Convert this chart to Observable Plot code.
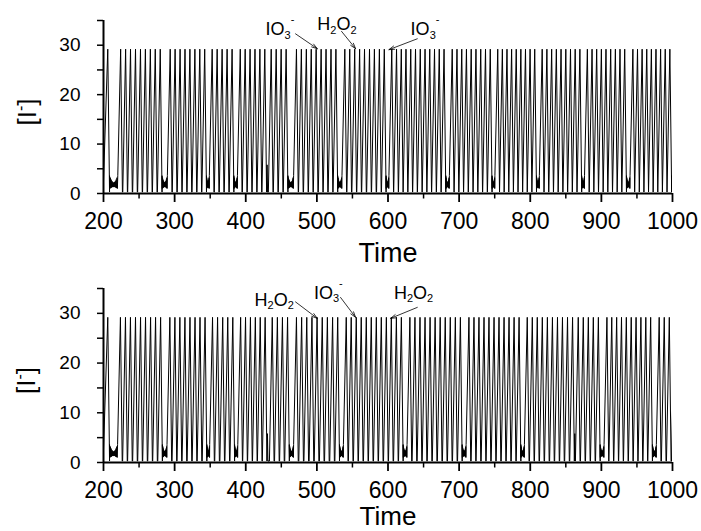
<!DOCTYPE html>
<html><head><meta charset="utf-8">
<script src="https://cdn.jsdelivr.net/npm/d3@7"></script>
<script src="https://cdn.jsdelivr.net/npm/@observablehq/plot@0.6"></script>
<style>
body{margin:0;background:#fff;}
#chart{width:701px;height:531px;overflow:hidden;background:#fff;}
#chart svg{display:block;}
</style></head><body><div id="chart"></div>
<script>
// ---- data ----
// peak times of the large [I-] spikes (upper panel)
const topPeaks = [206.0,
  224.1,231.1,238.0,245.0,252.0,258.9,265.9,272.8,279.8,
  293.8,300.7,307.7,314.6,321.5,328.5,335.4,342.3,
  352.8,359.8,366.8,373.8,380.8,
  392.3,399.2,406.1,413.0,419.9,426.8,435.8,442.8,449.8,456.8,
  471.3,478.2,485.2,492.1,499.0,506.0,512.9,519.9,526.8,
  539.3,546.2,553.2,560.1,567.0,574.0,580.9,587.9,594.8,
  605.3,612.0,618.7,625.3,632.0,638.7,645.4,652.1,658.7,665.4,672.1,678.8,
  690.3,697.0,703.7,710.3,717.0,723.7,730.4,737.1,743.8,
  754.3,760.8,767.3,773.8,780.3,786.8,793.3,799.8,806.3,
  816.8,823.4,830.1,836.7,843.3,850.0,856.6,863.2,869.8,
  880.3,886.9,893.4,900.0,906.5,913.1,919.7,926.2,932.8,
  944.3,950.8,957.3,963.8,970.3,976.8,983.3,989.8,996.3];
const topMinis = [430.0];          // small failed spikes
const topEndQuiet = 6;             // trace ends in a quiet phase

// lower panel
const bottomPeaks = [206.0,
  223.8,230.9,237.9,245.0,252.1,259.1,266.2,273.2,280.3,
  293.3,300.4,307.4,314.5,321.6,328.7,335.7,342.8,
  353.3,360.4,367.6,374.7,381.8,
  392.8,399.7,406.6,413.5,420.4,427.3,437.3,444.5,451.6,458.8,
  471.3,478.6,485.8,493.1,500.3,507.6,514.8,522.1,529.3,
  541.3,548.3,555.4,562.4,569.5,576.5,583.6,590.6,597.7,604.7,611.8,618.8,
  630.8,637.9,645.0,652.1,659.2,666.3,673.4,680.5,687.6,694.7,701.8,
  713.8,720.9,727.9,735.0,742.0,749.1,756.1,763.2,770.2,777.3,784.3,
  795.8,802.9,809.9,817.0,824.1,831.2,838.3,845.3,852.4,859.5,867.5,874.6,881.7,888.7,895.8,
  907.8,914.6,921.5,928.3,935.1,942.0,948.8,955.6,962.5,969.3,
  981.3,988.4,995.5,1002.6];
const bottomMinis = [430.5, 862.6];
const bottomEndQuiet = 0;

const peakLevel = 29.2, baseLevel = 0.3, miniLevel = 5.8, startLevel = 2.5;
// small fast oscillation seen in every quiet phase (bow-tie blob)
const blobWiggle = [3.6,1.0,3.2,1.1,2.8,1.2,2.5,1.3,2.3,1.3,2.2,1.3,2.3,1.3,2.5,1.2,2.8,1.1,3.2,1.0,3.6];

const xMajor = [200,300,400,500,600,700,800,900,1000];
const xMinor = [250,350,450,550,650,750,850,950];
const yMajor = [0,10,20,30];
const yMinor = [5,15,25,35];

const topNotes = [
  {x:427.8, y:31.97, label:"IO_3^-"},
  {x:500.6, y:32.98, label:"H_2O_2"},
  {x:631.8, y:31.97, label:"IO_3^-"}];
const topArrows = [
  {x1:470.0, y1:32.3, x2:500.6, y2:29.3},
  {x1:534.7, y1:32.8, x2:554.4, y2:29.3},
  {x1:641.2, y1:31.3, x2:601.3, y2:29.1}];
const bottomNotes = [
  {x:412.4, y:31.5, label:"H_2O_2"},
  {x:495.8, y:32.9, label:"IO_3^-"},
  {x:608.3, y:32.9, label:"H_2O_2"}];
const bottomArrows = [
  {x1:470.0, y1:32.3, x2:500.5, y2:29.0},
  {x1:533.3, y1:33.2, x2:554.4, y2:29.2},
  {x1:641.2, y1:31.2, x2:603.7, y2:29.0}];

const yLabel = "[I^-]";
const xLabel = "Time";

// ---- build the trace ----
function trace(peaks, minis, endQuiet) {
  const pts = [{t:200, v:startLevel}];
  const ev = [...peaks.map(t => ({t, mini:false})), ...minis.map(t => ({t, mini:true}))]
    .sort((a, b) => a.t - b.t);
  let prevEnd = 200;
  const addBlob = (a, b) => blobWiggle.forEach((v, k) =>
    pts.push({t: a + (b - a) * k / (blobWiggle.length - 1), v}));
  ev.forEach((e, i) => {
    const rise = e.mini ? 0.7 : 4.0, fall = e.mini ? 0.7 : 2.5;
    const prev = ev[i - 1];
    if (prev) {
      if (!prev.mini && !e.mini && e.t - prev.t > 8.5) {
        addBlob(prevEnd, e.t - rise);
      } else {
        const s = Math.max(prevEnd, e.t - rise);
        if (s > pts[pts.length - 1].t) pts.push({t:s, v:baseLevel});
      }
    }
    pts.push({t:e.t, v: e.mini ? miniLevel : peakLevel});
    pts.push({t:e.t + fall, v: baseLevel});
    prevEnd = e.t + fall;
  });
  if (endQuiet > 0) addBlob(prevEnd, prevEnd + endQuiet);
  return pts;
}

const FONT = "'Liberation Sans', Arial, Helvetica, sans-serif";
const NS = "http://www.w3.org/2000/svg";

function rich(svg, cls, small, subShift, supShift) {
  svg.querySelectorAll(`g.${cls} text`).forEach(el => {
    const s = el.textContent;
    el.textContent = "";
    const segs = [];
    for (let i = 0; i < s.length; i++) {
      const c = s[i];
      if ((c === "_" || c === "^") && i + 1 < s.length) { segs.push({txt:s[i+1], mode:c}); i++; }
      else if (segs.length && segs[segs.length-1].mode === "") segs[segs.length-1].txt += c;
      else segs.push({txt:c, mode:""});
    }
    let cur = 0;
    segs.forEach(sg => {
      const target = sg.mode === "_" ? subShift : sg.mode === "^" ? supShift : 0;
      const ts = document.createElementNS(NS, "tspan");
      ts.setAttribute("dy", target - cur);
      cur = target;
      if (sg.mode) ts.setAttribute("font-size", small);
      ts.textContent = sg.txt;
      el.appendChild(ts);
    });
  });
}

function panel(peaks, minis, endQuiet, notes, arrows, m) {
  const data = trace(peaks, minis, endQuiet);
  const svg = Plot.plot({
    width: 701, height: m.height,
    marginLeft: 103, marginRight: 29, marginTop: m.top, marginBottom: m.bottom,
    style: {fontFamily: FONT, background: "white", color: "black", overflow: "visible"},
    x: {domain: [200, 1000]},
    y: {domain: [0, 35]},
    marks: [
      Plot.line(data, {x:"t", y:"v", stroke:"black", strokeWidth:1, clip:true}),
      Plot.axisX({ticks: xMajor, tickSize: 9, tickPadding: 10, fontSize: 23, strokeWidth: 1.8, label: null, tickFormat: d => String(d)}),
      Plot.axisX({ticks: xMinor, tickSize: 5.5, strokeWidth: 1.5, text: null, label: null}),
      Plot.axisY({ticks: yMajor, tickSize: 6, tickPadding: 17, fontSize: 19, strokeWidth: 1.5, label: null}),
      Plot.axisY({ticks: yMinor, tickSize: 6, strokeWidth: 1.5, text: null, label: null}),
      Plot.ruleY([0], {stroke:"black", strokeWidth:2}),
      Plot.ruleX([200], {stroke:"black", strokeWidth:2}),
      Plot.arrow(arrows, {x1:"x1", y1:"y1", x2:"x2", y2:"y2", stroke:"black", strokeWidth:0.8, headAngle:34, headLength:11}),
      Plot.text(notes, {x:"x", y:"y", text:"label", textAnchor:"start", lineAnchor:"bottom", fontSize:18, fill:"black", className:"ann"}),
      Plot.text([yLabel], {text: d => d, frameAnchor:"left", rotate:-90, dx: m.ydx, dy: m.ydy, fontSize:26, fill:"black", className:"ylab"}),
      Plot.text([xLabel], {text: d => d, frameAnchor:"bottom", lineAnchor:"top", dy: m.xdy, fontSize: m.xfs, fill:"black"})
    ]
  });
  rich(svg, "ann", 11, 3.5, -12);
  rich(svg, "ylab", 16, 0, -10);
  return svg;
}

const host = document.getElementById("chart");
host.appendChild(panel(topPeaks, topMinis, topEndQuiet, topNotes, topArrows,
  {height:265, top:20, bottom:72, ydx:-75.5, ydy:18.5, xdy:49, xfs:27}));
host.appendChild(panel(bottomPeaks, bottomMinis, bottomEndQuiet, bottomNotes, bottomArrows,
  {height:266, top:23, bottom:69, ydx:-76.5, ydy:18.5, xdy:44, xfs:26}));
</script></body></html>
